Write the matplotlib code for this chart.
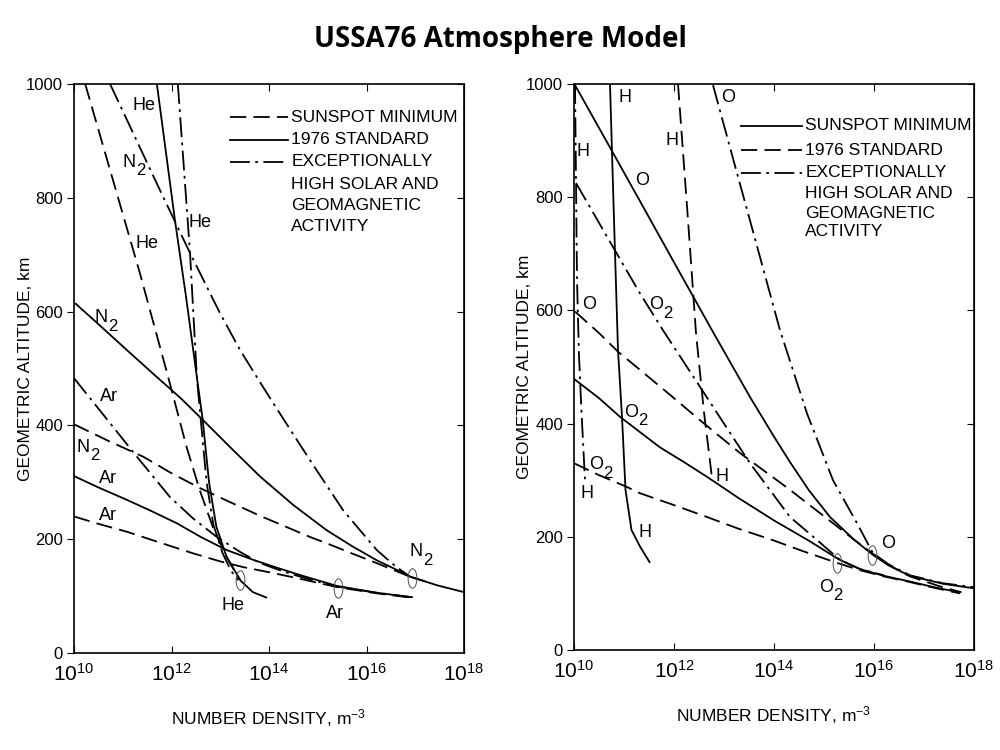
import numpy as np
import matplotlib
matplotlib.use("Agg")
import matplotlib.pyplot as plt
from matplotlib.path import Path
from matplotlib.transforms import Affine2D, offset_copy

plt.rcParams['font.family'] = ['Liberation Sans', 'DejaVu Sans']
plt.rcParams['mathtext.fontset'] = 'custom'
plt.rcParams['mathtext.rm'] = 'Liberation Sans'
plt.rcParams['mathtext.it'] = 'Liberation Sans:italic'
plt.rcParams['mathtext.bf'] = 'Liberation Sans:bold'

# curves: log10 number density (m^-3) vs altitude (km)
# ---- left panel: He, N2, Ar ----
he_min_n = [10.23, 10.80, 11.35, 11.91, 12.31, 12.58, 12.85, 13.13, 13.40]
he_min_h = [1000, 831, 668, 492, 362, 286, 221, 169, 128]
he_std_n = [11.70, 12.07, 12.30, 12.52, 12.64, 12.77, 12.92, 13.13, 13.42, 13.67, 13.96]
he_std_h = [1000, 761, 625, 485, 410, 300, 222, 169, 127, 107, 97]
he_max_n = [12.13, 12.38, 12.52, 12.60, 12.72, 12.86, 13.05, 13.22, 13.36]
he_max_h = [1000, 703, 485, 410, 300, 225, 175, 145, 128]

n2_min_n = [10.00, 10.70, 11.42, 12.00, 12.58, 13.13, 13.82, 14.84, 15.18, 15.70, 16.21, 16.55, 16.90, 17.20]
n2_min_h = [402, 373, 345, 316, 290, 268, 241, 204, 193, 175, 158, 146, 134, 126]
n2_std_n = [10.02, 10.50, 11.09, 11.70, 12.20, 12.65, 13.20, 13.82, 14.50, 15.18, 15.70, 16.21, 16.60, 16.90, 17.45, 18.00]
n2_std_h = [615, 578, 532, 485, 447, 409, 362, 310, 260, 216, 188, 163, 147, 134, 119, 107]
n2_max_n = [10.74, 11.76, 12.38, 12.99, 13.41, 13.75, 14.08, 14.84, 15.52, 16.21, 16.60, 16.90, 17.20]
n2_max_h = [1000, 814, 703, 598, 532, 485, 440, 339, 251, 181, 152, 134, 126]

ar_min_n = [10.00, 10.50, 11.09, 11.80, 12.45, 13.00, 13.47, 14.00, 14.50, 15.39, 16.20, 16.95]
ar_min_h = [240, 227, 213, 193, 175, 161, 151, 142, 133, 116, 105, 97]
ar_std_n = [10.00, 10.50, 11.09, 11.60, 12.11, 12.60, 13.13, 13.70, 14.16, 14.60, 15.39, 16.20, 16.95]
ar_std_h = [311, 291, 269, 249, 228, 204, 181, 163, 150, 138, 118, 106, 98]
ar_max_n = [10.00, 10.74, 11.29, 11.97, 12.45, 12.93, 13.40, 13.82, 14.30, 14.80, 15.39, 16.20, 16.92]
ar_max_h = [483, 404, 345, 274, 236, 204, 178, 158, 143, 130, 117, 106, 98]

# ---- right panel: H, O, O2 ----
o_min_n = [10.02, 10.70, 11.32, 12.00, 12.76, 13.52, 14.00, 14.32, 14.70, 15.12, 15.60, 15.98, 16.30, 16.72, 17.38, 18.00]
o_min_h = [998, 891, 793, 685, 565, 447, 377, 332, 282, 235, 195, 168, 149, 131, 117, 109]
o_std_n = [10.02, 10.50, 10.88, 11.32, 12.00, 12.52, 13.32, 14.32, 15.18, 15.60, 15.98, 16.30, 16.72, 17.30, 17.75]
o_std_h = [598, 560, 527, 495, 445, 406, 348, 283, 224, 195, 170, 150, 130, 113, 102]
o_max_n = [12.78, 13.20, 13.60, 14.12, 14.66, 15.18, 15.66, 15.98, 16.30, 16.72, 17.38, 18.00]
o_max_h = [998, 862, 733, 565, 418, 300, 224, 171, 151, 132, 118, 111]

o2_min_n = [10.00, 10.50, 10.92, 11.32, 11.72, 12.20, 12.66, 13.30, 13.98, 14.70, 15.30, 15.72, 16.20, 16.72, 17.20, 17.70]
o2_min_h = [479, 445, 412, 385, 358, 332, 306, 268, 230, 193, 160, 143, 131, 121, 111, 102]
o2_std_n = [10.00, 10.50, 11.06, 11.32, 12.00, 12.66, 13.30, 13.98, 14.60, 15.26, 15.72, 16.20, 16.72, 17.20, 17.72]
o2_std_h = [330, 309, 288, 277, 256, 235, 214, 194, 174, 154, 141, 130, 120, 110, 100]
o2_max_n = [10.04, 10.78, 11.32, 11.78, 12.26, 12.52, 13.00, 13.52, 14.32, 14.80, 15.32, 15.72, 16.20]
o2_max_h = [825, 712, 630, 565, 500, 465, 400, 330, 235, 199, 159, 143, 132]

h_min_n = [10.72, 10.80, 10.88, 10.96, 11.03, 11.15, 11.32, 11.52]
h_min_h = [1000, 760, 530, 412, 283, 212, 183, 154]
h_std_n = [12.08, 12.28, 12.44, 12.60, 12.76]
h_std_h = [1000, 760, 560, 420, 304]
h_max_n = [10.02, 10.04, 10.06, 10.10, 10.15, 10.22]
h_max_h = [1000, 830, 655, 520, 420, 300]

legend_text = ["SUNSPOT MINIMUM", "1976 STANDARD", "EXCEPTIONALLY",
               "HIGH SOLAR AND", "GEOMAGNETIC", "ACTIVITY"]

SOLID = '-'
DASH = (0, (9, 4))
DASHDOT = (0, (11, 3, 1.5, 3))
LW = 1.3

ellipse = Path.unit_circle().transformed(Affine2D().scale(0.45, 1.0))


def curve(ax, n, h, ls):
    ax.plot(10.0 ** np.array(n), h, color='black', lw=LW, linestyle=ls,
            solid_capstyle='butt', dash_capstyle='butt', solid_joinstyle='round')


def label(ax, txt, n, h):
    # species name, with a full-size subscript digit like the scanned figure
    if '_' in txt:
        main, sub = txt.split('_')
        ax.text(10.0 ** n, h, main, fontsize=13, ha='right', va='center',
                transform=offset_copy(ax.transData, fig=ax.figure, x=2, y=0, units='points'))
        ax.text(10.0 ** n, h, sub, fontsize=12, ha='left', va='center',
                transform=offset_copy(ax.transData, fig=ax.figure, x=2, y=-6, units='points'))
    else:
        ax.text(10.0 ** n, h, txt, fontsize=13, ha='center', va='center')


def setup(ax):
    ax.set_xscale('log')
    ax.set_xlim(1e10, 1e18)
    ax.set_ylim(0, 1000)
    ax.set_xticks([1e10, 1e12, 1e14, 1e16, 1e18])
    ax.set_xticklabels([r'$10^{10}$', r'$10^{12}$', r'$10^{14}$', r'$10^{16}$', r'$10^{18}$'])
    ax.xaxis.set_minor_locator(matplotlib.ticker.NullLocator())
    ax.set_yticks(range(0, 1001, 200))
    ax.tick_params(axis='x', direction='in', top=True, length=5, labelsize=15, pad=7)
    ax.tick_params(axis='y', direction='out', length=5, labelsize=12, pad=3)
    sec = ax.secondary_yaxis('right')
    sec.set_yticks(range(200, 1001, 200))
    sec.tick_params(direction='in', length=5, labelright=False)
    for s in ax.spines.values():
        s.set_linewidth(1.2)
    ax.set_xlabel('NUMBER DENSITY, m$^{-3}$', fontsize=12.5)
    ax.set_ylabel('GEOMETRIC ALTITUDE, km', fontsize=12.5)
    ax.xaxis.set_label_coords(0.5, -0.095)
    ax.yaxis.set_label_coords(-0.105, 0.5)


def legend(ax, styles, x0, x1, ys):
    for ls, y in zip(styles, ys[:3]):
        ax.plot([x0, x1], [y, y], transform=ax.transAxes, color='black', lw=LW, linestyle=ls)
    for txt, y in zip(legend_text, ys):
        ax.text(x1 + 0.008, y, txt, transform=ax.transAxes, fontsize=12.5, va='center')


fig = plt.figure(figsize=(10, 7.5), dpi=100)
fig.text(0.5, 0.947, 'USSA76 Atmosphere Model', ha='center', va='center',
         fontsize=20, fontweight='bold', family=['Open Sans', 'DejaVu Sans'])

# left panel: dashed = sunspot minimum, solid = 1976 standard, dash-dot = high activity
ax1 = fig.add_axes([0.074, 0.1293, 0.39, 0.7587])
setup(ax1)
curve(ax1, he_min_n, he_min_h, DASH)
curve(ax1, he_std_n, he_std_h, SOLID)
curve(ax1, he_max_n, he_max_h, DASHDOT)
curve(ax1, n2_min_n, n2_min_h, DASH)
curve(ax1, n2_std_n, n2_std_h, SOLID)
curve(ax1, n2_max_n, n2_max_h, DASHDOT)
curve(ax1, ar_min_n, ar_min_h, DASH)
curve(ax1, ar_std_n, ar_std_h, SOLID)
curve(ax1, ar_max_n, ar_max_h, DASHDOT)
ax1.plot(10.0 ** np.array([13.40, 15.41, 16.93]), [128, 114, 132], linestyle='none',
         marker=ellipse, ms=14, mfc='none', mec='0.3', mew=0.7)
for txt, n, h in [('He', 11.44, 962), ('N_2', 11.21, 862), ('He', 11.50, 720),
                  ('He', 12.58, 757), ('N_2', 10.64, 589), ('Ar', 10.72, 450),
                  ('N_2', 10.27, 362), ('Ar', 10.70, 306), ('Ar', 10.70, 241),
                  ('He', 13.26, 83), ('Ar', 15.35, 70), ('N_2', 17.10, 178)]:
    label(ax1, txt, n, h)
legend(ax1, [DASH, SOLID, DASHDOT], 0.40, 0.549,
       [0.942, 0.902, 0.863, 0.824, 0.787, 0.750])

# right panel: solid = sunspot minimum, dashed = 1976 standard, dash-dot = high activity
ax2 = fig.add_axes([0.574, 0.1333, 0.40, 0.7547])
setup(ax2)
curve(ax2, o_min_n, o_min_h, SOLID)
curve(ax2, o_std_n, o_std_h, DASH)
curve(ax2, o_max_n, o_max_h, DASHDOT)
curve(ax2, o2_min_n, o2_min_h, SOLID)
curve(ax2, o2_std_n, o2_std_h, DASH)
curve(ax2, o2_max_n, o2_max_h, DASHDOT)
curve(ax2, h_min_n, h_min_h, SOLID)
curve(ax2, h_std_n, h_std_h, DASH)
curve(ax2, h_max_n, h_max_h, DASHDOT)
ax2.plot(10.0 ** np.array([15.96, 15.26]), [168, 154], linestyle='none',
         marker=ellipse, ms=14, mfc='none', mec='0.3', mew=0.7)
for txt, n, h in [('H', 11.02, 977), ('O', 13.08, 977), ('H', 10.18, 880),
                  ('H', 11.96, 901), ('O', 11.36, 830), ('O_2', 11.72, 610),
                  ('O', 10.30, 610), ('O_2', 11.22, 420), ('O_2', 10.52, 327),
                  ('H', 10.26, 277), ('H', 12.96, 306), ('H', 11.42, 208),
                  ('O', 16.28, 189), ('O_2', 15.12, 111)]:
    label(ax2, txt, n, h)
legend(ax2, [SOLID, DASH, DASHDOT], 0.4175, 0.57,
       [0.926, 0.883, 0.843, 0.807, 0.772, 0.739])

fig.savefig('out.png', dpi=100)
